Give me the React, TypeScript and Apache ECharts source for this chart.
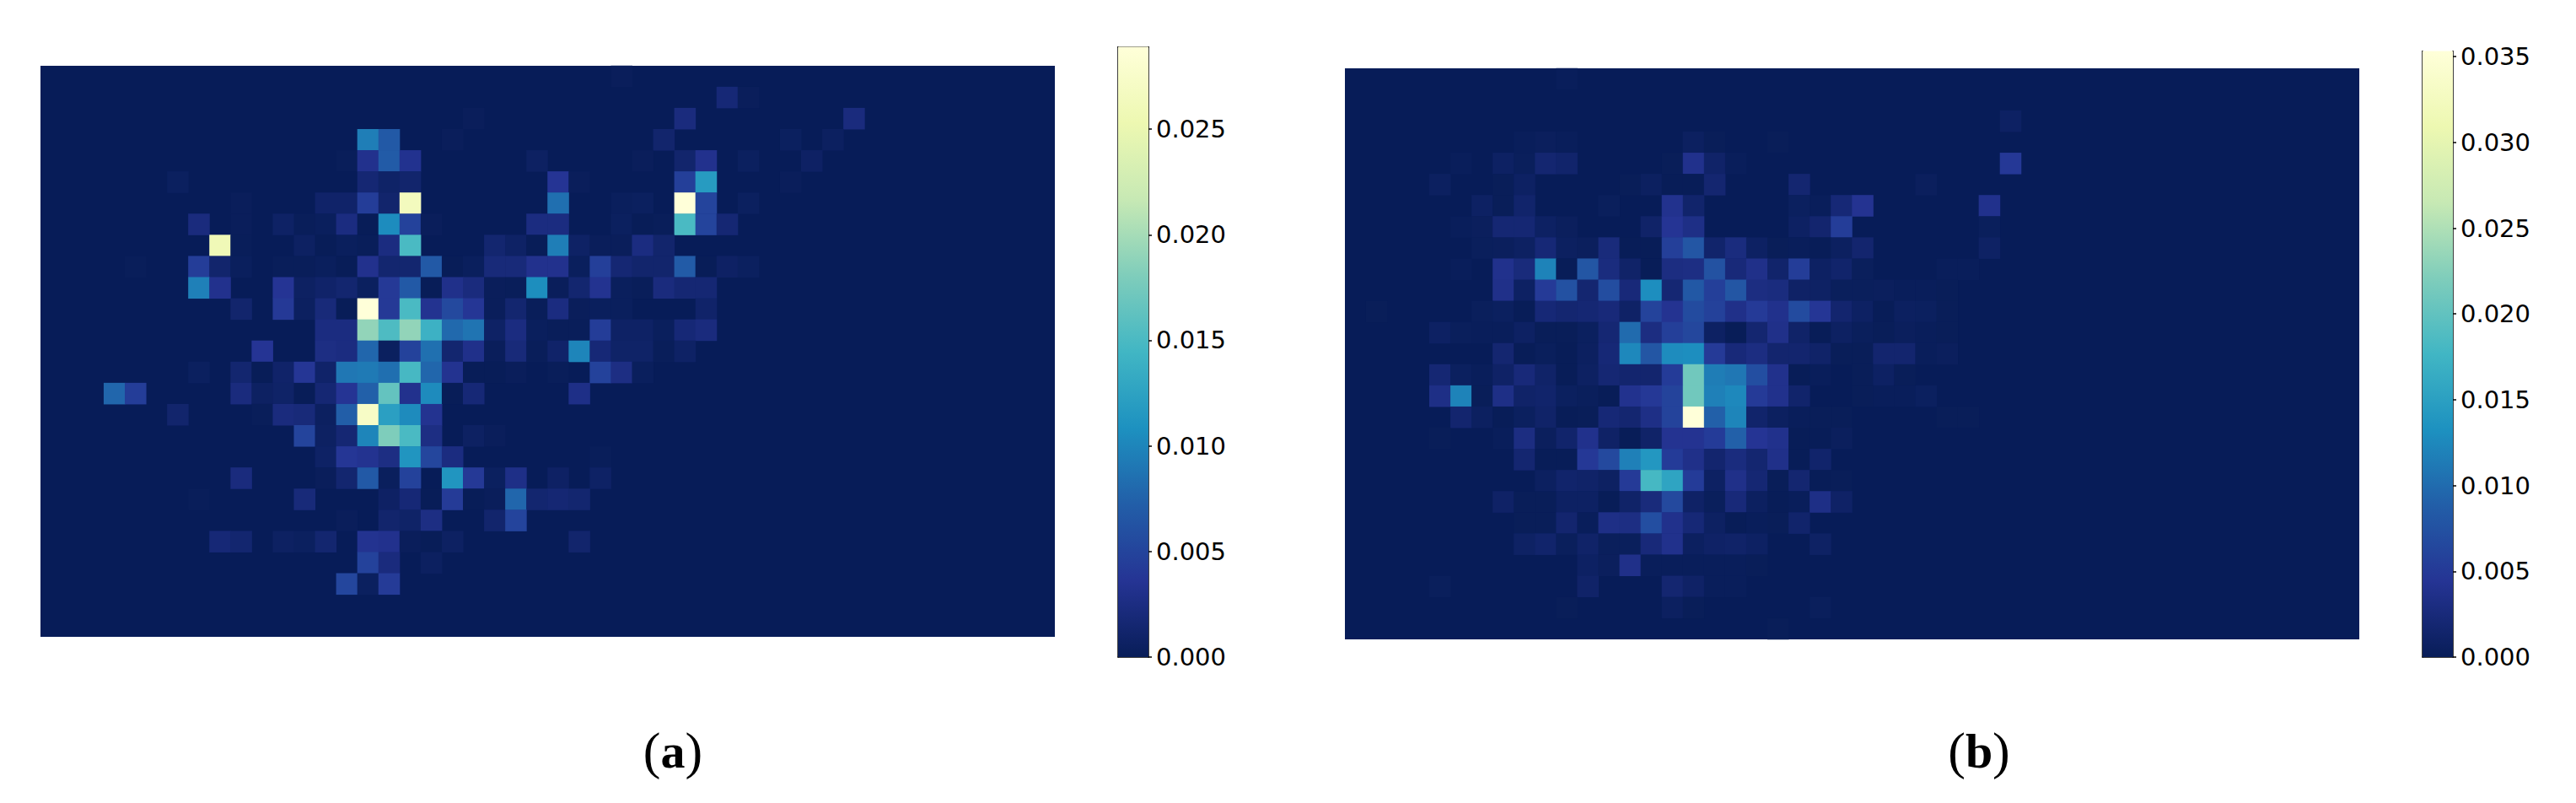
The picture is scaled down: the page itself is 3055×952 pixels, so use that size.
import React, { useEffect, useRef } from "react";
import * as echarts from "echarts";

// Cell values are in units of 0.0001, keyed by column for each row (top row first).
// -1 marks the few cells the reference draws a shade darker than the bottom of its colour scale.
const UNIT = 0.0001;
const COLUMNS = 48;
const ROWS = 27;

const panelA: Record<number, number>[] = [
  { 27: 2 },
  { 32: 18, 33: 2 },
  { 20: 2, 30: 22, 38: 22 },
  { 15: 95, 16: 68, 19: 2, 29: 12, 35: 4, 37: 5 },
  { 14: 1, 15: 32, 16: 70, 17: 33, 23: 6, 28: 2, 30: 12, 31: 32, 33: 4, 36: 7 },
  { 6: 4, 15: 16, 16: 9, 17: 12, 24: 36, 25: 2, 30: 46, 31: 118, 35: 2 },
  { 9: 2, 13: 10, 14: 10, 15: 44, 16: 12, 17: 265, 24: 84, 27: 3, 28: 4, 30: 289, 31: 50, 33: 4 },
  { 7: 22, 9: 2, 11: 8, 12: 1, 13: 3, 14: 24, 15: -1, 16: 105, 17: 48, 18: 2, 23: 24, 24: 24, 27: 4, 28: -1, 29: 1, 30: 150, 31: 50, 32: 16 },
  { 8: 258, 9: 1, 12: 6, 13: -1, 14: 3, 15: 1, 16: 24, 17: 150, 21: 14, 22: 8, 23: -1, 24: 95, 25: 8, 26: 2, 27: 2, 28: 24, 29: 12 },
  { 4: 1, 7: 44, 8: 12, 9: 3, 11: 1, 12: 1, 13: 3, 14: -1, 15: 32, 16: 14, 17: 14, 18: 68, 19: -1, 20: 3, 21: 20, 22: 20, 23: 32, 24: 32, 25: 3, 26: 46, 27: 16, 28: 12, 29: 12, 30: 70, 31: -1, 32: 7, 33: 4 },
  { 7: 96, 8: 32, 11: 36, 12: 6, 13: 10, 14: 14, 15: 4, 16: 40, 17: 68, 18: -1, 19: 30, 20: 22, 21: 2, 22: 1, 23: 106, 24: 2, 25: 14, 26: 34, 27: 3, 28: 1, 29: 22, 30: 16, 31: 16 },
  { 9: 12, 11: 40, 12: 5, 13: 20, 14: -1, 15: 289, 16: 40, 17: 150, 18: 34, 19: 54, 20: 38, 21: 2, 22: 14, 23: 1, 24: 24, 25: 2, 26: 3, 27: 3, 31: 10 },
  { 13: 24, 14: 24, 15: 190, 16: 152, 17: 190, 18: 140, 19: 80, 20: 88, 21: 8, 22: 24, 23: 3, 24: 1, 25: 1, 26: 44, 27: 8, 28: 8, 29: 3, 30: 18, 31: 22 },
  { 10: 36, 13: 26, 14: 24, 15: 78, 16: 4, 17: 48, 18: 85, 19: 14, 20: 30, 21: 2, 22: 20, 23: 1, 24: 10, 25: 100, 26: 18, 27: 9, 28: 9, 29: 1, 30: 8 },
  { 7: 4, 9: 14, 10: -1, 11: 10, 12: 38, 13: 10, 14: 90, 15: 92, 16: 84, 17: 148, 18: 78, 19: 34, 20: -1, 21: -1, 22: 2, 24: 1, 26: 48, 27: 26, 28: 3 },
  { 3: 78, 4: 44, 9: 22, 10: 6, 11: 9, 12: -1, 13: 16, 14: 36, 15: 74, 16: 165, 17: 32, 18: 104, 19: -1, 20: 18, 25: 28 },
  { 6: 12, 10: 1, 11: 22, 12: 20, 13: 5, 14: 72, 15: 272, 16: 122, 17: 104, 18: 34 },
  { 12: 50, 13: 6, 14: 16, 15: 100, 16: 180, 17: 150, 18: 26, 20: 6, 21: 2 },
  { 13: 8, 14: 38, 15: 34, 16: 26, 17: 112, 18: 52, 19: 24, 26: 1 },
  { 9: 22, 13: 2, 14: 14, 15: 68, 16: 3, 17: 48, 19: 112, 20: 40, 21: 4, 22: 28, 24: 7, 26: 8 },
  { 7: 1, 12: 20, 16: 7, 17: 18, 18: -1, 19: 42, 20: -1, 21: 2, 22: 78, 23: 14, 24: 16, 25: 14 },
  { 14: 2, 16: 12, 17: 9, 18: 26, 21: 12, 22: 50 },
  { 8: 18, 9: 14, 11: 6, 12: 4, 13: 14, 15: 34, 16: 32, 17: 2, 18: -1, 19: 6, 25: 12 },
  { 15: 48, 16: 22, 18: 5 },
  { 14: 52, 15: 4, 16: 42 },
  {},
  {},
];

const panelB: Record<number, number>[] = [
  { 10: 2 },
  {},
  { 31: 8 },
  { 8: 2, 9: 4, 10: 2, 16: 6, 17: 1, 20: 1 },
  { 5: 2, 7: 8, 8: 3, 9: 18, 10: 14, 15: 1, 16: 38, 17: 12, 18: 2, 31: 48 },
  { 4: 6, 7: 1, 8: 8, 13: 1, 14: 6, 15: -1, 16: -1, 17: 18, 21: 18, 27: 4 },
  { 6: 8, 7: 1, 8: 14, 12: 3, 15: 40, 16: 14, 21: 5, 22: 2, 23: 22, 24: 42, 30: 38 },
  { 5: 2, 6: 4, 7: 20, 8: 20, 9: 8, 10: 4, 14: 12, 15: 44, 16: 34, 21: 8, 22: 16, 23: 54, 30: 3 },
  { 6: 3, 7: 4, 8: 7, 9: 22, 10: 6, 11: 4, 12: 26, 13: -1, 14: -1, 15: 56, 16: 80, 17: 14, 18: 28, 19: 8, 20: 1, 21: 2, 22: -1, 23: 6, 24: 16, 30: 9 },
  { 5: 2, 7: 38, 8: 26, 9: 120, 10: -1, 11: 80, 12: 28, 13: 12, 14: -1, 15: 30, 16: 32, 17: 76, 18: 24, 19: 36, 20: 14, 21: 54, 22: 8, 23: 14, 24: 3, 28: 2, 29: 2 },
  { 7: 36, 8: 8, 9: 50, 10: 75, 11: 18, 12: 70, 13: 24, 14: 130, 15: 20, 16: 82, 17: 56, 18: 80, 19: 30, 20: 28, 21: 10, 22: 9, 23: 3, 24: 3, 25: 4, 26: 2, 27: 2, 28: 1 },
  { 1: 1, 6: 3, 7: 5, 8: -1, 9: 22, 10: 18, 11: 20, 12: 24, 13: 10, 14: 60, 15: 42, 16: 68, 17: 58, 18: 36, 19: 50, 20: 38, 21: 68, 22: 46, 23: 16, 24: 8, 25: -1, 26: 6, 27: 5, 28: 1 },
  { 4: 8, 5: 3, 6: 2, 7: 2, 8: 8, 9: 1, 10: 1, 11: 5, 12: 20, 13: 100, 14: 30, 15: 56, 16: 64, 17: 8, 18: -1, 19: 18, 20: 36, 21: 12, 22: -1, 23: 7, 24: 3, 25: 1, 26: 4, 27: 2, 28: 1 },
  { 7: 18, 8: -1, 9: 3, 10: -1, 11: 6, 12: 22, 13: 125, 14: 80, 15: 128, 16: 130, 17: 50, 18: 24, 19: 30, 20: 16, 21: 16, 22: 12, 23: 1, 24: 1, 25: 16, 26: 16, 27: 2, 28: 4 },
  { 4: 20, 5: 5, 6: 2, 7: 10, 8: 24, 9: 12, 10: -1, 11: 7, 12: 20, 13: 16, 14: 16, 15: 52, 16: 211, 17: 115, 18: 110, 19: 72, 20: 38, 21: -1, 22: 2, 24: 1, 25: 8, 26: 1 },
  { 4: 34, 5: 120, 6: 1, 7: 34, 8: 12, 9: 14, 10: 5, 11: 3, 12: -1, 13: 40, 14: 48, 15: 60, 16: 211, 17: 118, 18: 125, 19: 50, 20: 38, 21: 14, 24: 1, 25: 2, 26: 2, 27: 5 },
  { 5: 16, 6: 6, 7: -1, 8: 5, 9: 12, 10: -1, 11: 1, 12: 22, 13: 18, 14: 34, 15: 60, 16: 353, 17: 90, 18: 122, 19: 14, 20: 6, 21: 2, 22: 1, 23: 1, 28: 1, 29: 1 },
  { 4: 1, 7: 2, 8: 30, 9: 4, 10: 14, 11: 38, 12: 10, 13: -1, 14: 12, 15: 42, 16: 42, 17: 52, 18: 90, 19: 44, 20: 38, 21: -1, 22: -1, 23: 4 },
  { 8: 18, 9: -1, 10: -1, 11: 48, 12: 66, 13: 118, 14: 140, 15: 52, 16: 36, 17: 16, 18: 28, 19: 18, 20: 36, 21: -1, 22: 14 },
  { 9: 6, 10: 14, 11: 12, 12: 7, 13: 50, 14: 180, 15: 155, 16: 52, 17: 8, 18: 36, 19: 20, 20: 1, 21: 18, 22: -1, 23: 1 },
  { 7: 10, 8: 1, 9: 1, 10: 8, 11: 8, 12: -1, 13: 12, 14: 26, 15: 66, 16: 10, 17: 3, 18: 24, 19: 6, 20: -1, 21: 2, 22: 34, 23: 10 },
  { 8: 1, 9: 1, 10: 16, 11: 2, 12: 34, 13: 32, 14: 72, 15: 38, 16: 22, 17: 7, 18: -1, 19: 2, 20: 1, 21: 14 },
  { 8: 9, 9: 14, 10: 3, 11: 12, 12: 3, 13: 3, 14: 24, 15: 38, 16: 6, 17: 10, 18: 12, 19: 8, 22: 9 },
  { 11: 8, 12: 4, 13: 36, 14: 2, 15: 2, 16: 2, 17: 2, 18: 2, 19: 1 },
  { 4: 3, 11: 12, 15: 18, 16: 10, 17: 2, 18: 2 },
  { 10: 1, 15: 6, 16: 1, 22: 3 },
  { 20: 1 },
];

const maxA = 0.0289;
const maxB = 0.03533;
const ticksA = [0, 0.005, 0.01, 0.015, 0.02, 0.025];
const ticksB = [0, 0.005, 0.01, 0.015, 0.02, 0.025, 0.03, 0.035];
const captions = ["a", "b"];

const YLGNBU_R = ["#081d58", "#253494", "#225ea8", "#1d91c0", "#41b6c4", "#7fcdbb", "#c7e9b4", "#edf8b1", "#ffffd9"];
const DARK = "#07184e";
const BACKGROUND = "#071c58";
const FONT = "DejaVu Sans";

const toCells = (rows: Record<number, number>[]) =>
  rows.flatMap((row, r) =>
    Object.keys(row).map((c) => [Number(c), r, row[Number(c)] * UNIT])
  );

const indices = (n: number) => Array.from({ length: n }, (_, i) => String(i));

// Colour bar runs bottom (value 0) to top (max); offset 0 of the gradient is the top of the bar.
const gradient = {
  type: "linear",
  x: 0,
  y: 0,
  x2: 0,
  y2: 1,
  colorStops: YLGNBU_R.map((color, i) => ({ offset: 1 - i / (YLGNBU_R.length - 1), color })).reverse(),
};

function buildOption() {
  const panels = [
    { cells: toCells(panelA), max: maxA, ticks: ticksA, box: { left: 48, top: 78, width: 1203, height: 677 }, bar: { left: 1326, top: 55.5, width: 36, height: 723.5 }, caption: 798, capTop: true },
    { cells: toCells(panelB), max: maxB, ticks: ticksB, box: { left: 1595, top: 81, width: 1203, height: 677 }, bar: { left: 2873, top: 60.4, width: 36, height: 718.6 }, caption: 2347, capTop: false },
  ];
  const grid: any[] = [];
  const xAxis: any[] = [];
  const yAxis: any[] = [];
  const series: any[] = [];
  const visualMap: any[] = [];
  const line = { show: true, onZero: false, lineStyle: { color: "#000", width: 1.5 } };

  panels.forEach((p) => {
    const heatGrid = grid.length;
    grid.push({ ...p.box, show: true, backgroundColor: BACKGROUND, borderWidth: 0, containLabel: false });
    const heatX = xAxis.length;
    xAxis.push({ type: "category", gridIndex: heatGrid, data: indices(COLUMNS), show: false, splitArea: { show: false } });
    const heatY = yAxis.length;
    yAxis.push({ type: "category", gridIndex: heatGrid, data: indices(ROWS), inverse: true, show: false, splitArea: { show: false } });
    const heatSeries = series.length;
    series.push({
      type: "heatmap",
      xAxisIndex: heatX,
      yAxisIndex: heatY,
      data: p.cells,
      silent: true,
      progressive: 0,
      itemStyle: { borderWidth: 0 },
    });
    visualMap.push({
      show: false,
      type: "continuous",
      seriesIndex: heatSeries,
      dimension: 2,
      min: 0,
      max: p.max,
      inRange: { color: YLGNBU_R },
      outOfRange: { color: DARK },
    });

    const barGrid = grid.length;
    grid.push({ ...p.bar, show: false, containLabel: false });
    const barX = xAxis.length;
    xAxis.push({
      type: "category",
      gridIndex: barGrid,
      data: ["scale"],
      position: "bottom",
      axisLine: line,
      axisTick: { show: false },
      axisLabel: { show: false },
    });
    if (p.capTop) {
      xAxis.push({
        type: "category",
        gridIndex: barGrid,
        data: ["scale"],
        position: "top",
        axisLine: line,
        axisTick: { show: false },
        axisLabel: { show: false },
      });
    }
    const barY = yAxis.length;
    yAxis.push({
      type: "value",
      gridIndex: barGrid,
      position: "right",
      min: 0,
      max: p.max,
      splitLine: { show: false },
      axisLine: line,
      axisTick: { show: true, length: 4, lineStyle: { color: "#000", width: 1.5 }, customValues: p.ticks },
      axisLabel: {
        show: true,
        margin: 9,
        fontFamily: FONT,
        fontSize: 29,
        color: "#000",
        customValues: p.ticks,
        formatter: (v: number) => v.toFixed(3),
      },
    });
    yAxis.push({
      type: "value",
      gridIndex: barGrid,
      position: "left",
      min: 0,
      max: p.max,
      splitLine: { show: false },
      axisLine: line,
      axisTick: { show: false },
      axisLabel: { show: false },
    });
    series.push({
      type: "bar",
      xAxisIndex: barX,
      yAxisIndex: barY,
      data: [p.max],
      barWidth: "100%",
      silent: true,
      itemStyle: { color: gradient },
      z: 1,
    });
  });

  return {
    animation: false,
    backgroundColor: "#fff",
    tooltip: { show: false },
    grid,
    xAxis,
    yAxis,
    series,
    visualMap,
    graphic: panels.map((p, i) => ({
      type: "text",
      x: p.caption,
      y: 890,
      style: {
        text: `{p|(}{b|${captions[i]}}{p|)}`,
        align: "center",
        verticalAlign: "middle",
        rich: {
          p: { fontFamily: "Liberation Serif", fontSize: 62, fill: "#000" },
          b: { fontFamily: "Liberation Serif", fontSize: 58, fontWeight: "bold", fill: "#000" },
        },
      },
    })),
  };
}

export default function App() {
  const ref = useRef<HTMLDivElement>(null);
  useEffect(() => {
    document.body.style.margin = "0";
    const chart = echarts.init(ref.current!, undefined, { renderer: "svg" });
    chart.setOption(buildOption() as any);
    return () => chart.dispose();
  }, []);
  return <div ref={ref} style={{ width: 3055, height: 952 }} />;
}
